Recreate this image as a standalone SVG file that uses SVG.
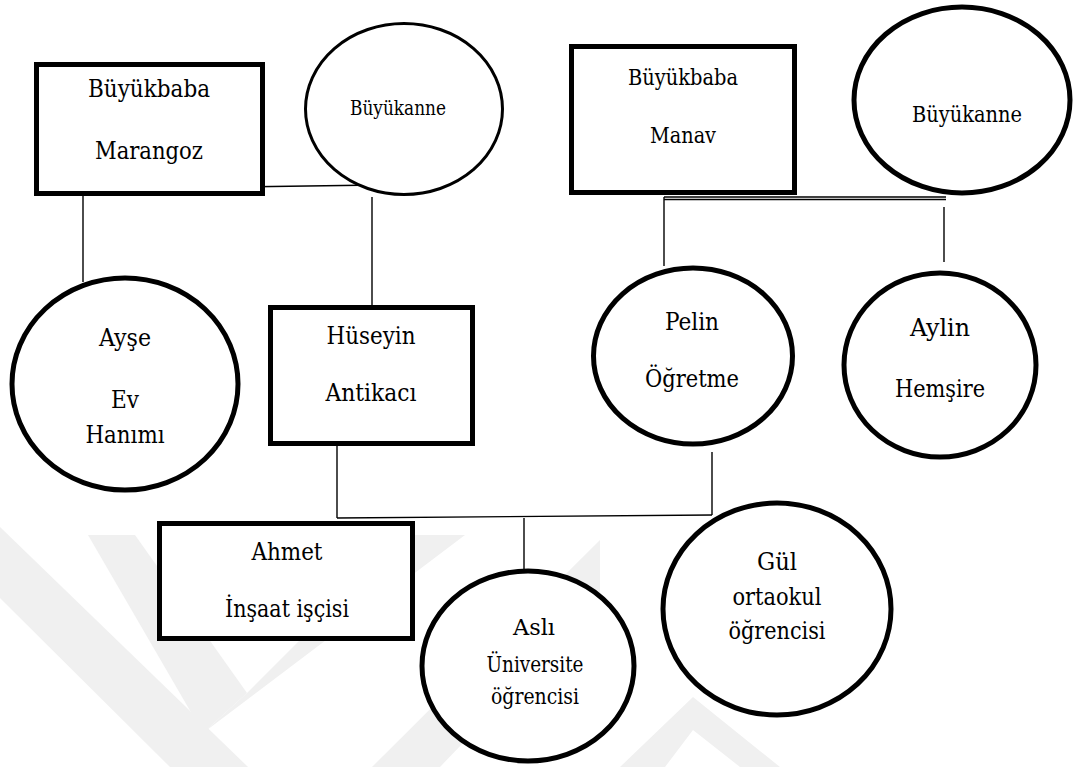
<svg xmlns="http://www.w3.org/2000/svg" width="1078" height="767" viewBox="0 0 1078 767">
<style>
.bg{fill:#ffffff}
.wm{fill:#f0f0f0;stroke:none}
.box{fill:#ffffff;stroke:#000;stroke-width:5}
.ell{fill:#ffffff;stroke:#000;stroke-width:5}
.thin{stroke-width:3}
.conn line{stroke:#000;stroke-width:1.4;fill:none}
.lbl{fill:#000;text-anchor:middle;font-family:'DejaVu Serif Condensed','DejaVu Serif','Liberation Serif',serif;font-stretch:condensed}
.t26{font-size:24px}
.t24{font-size:22px}
.t22{font-size:20px}
</style>
<rect class="bg" x="0" y="0" width="1078" height="767"/>
<g id="watermark">
<polygon class="wm" points="0,527 0,598 170,767 248,767"/>
<polygon class="wm" points="88,535 135,535 247,693 203,733"/>
<polygon class="wm" points="203,733 465,535 405,535 247,693"/>
<polygon class="wm" points="372,767 440,767 600,600 600,540"/>
<polygon class="wm" points="620,767 693,697 780,767 740,767 693,730 665,767"/>
</g>
<g id="connectors" class="conn">
<line x1="83" y1="189" x2="378" y2="185"/>
<line x1="83" y1="193" x2="83" y2="282"/>
<line x1="372" y1="197" x2="372" y2="307"/>
<line x1="664" y1="197" x2="946" y2="197"/>
<line x1="664" y1="199.5" x2="946" y2="199.5"/>
<line x1="664" y1="197" x2="664" y2="266"/>
<line x1="944" y1="207" x2="944" y2="262"/>
<line x1="337" y1="446" x2="337" y2="518"/>
<line x1="337" y1="518" x2="712" y2="515"/>
<line x1="712" y1="452" x2="712" y2="515"/>
<line x1="524" y1="518" x2="524" y2="583"/>
</g>
<g id="grandpa-left">
<rect class="box" x="36.5" y="64.5" width="226" height="129"/>
<text class="lbl t26" x="149" y="97" textLength="122" lengthAdjust="spacingAndGlyphs">Büyükbaba</text>
<text class="lbl t26" x="149" y="159" textLength="108" lengthAdjust="spacingAndGlyphs">Marangoz</text>
</g>
<g id="grandma-left">
<ellipse class="ell thin" cx="404" cy="109" rx="98.5" ry="85.5"/>
<text class="lbl t22" x="398" y="115" textLength="96" lengthAdjust="spacingAndGlyphs">Büyükanne</text>
</g>
<g id="grandpa-right">
<rect class="box" x="571.5" y="46.5" width="223" height="146"/>
<text class="lbl t24" x="683" y="85" textLength="110" lengthAdjust="spacingAndGlyphs">Büyükbaba</text>
<text class="lbl t24" x="683" y="143" textLength="66" lengthAdjust="spacingAndGlyphs">Manav</text>
</g>
<g id="grandma-right">
<ellipse class="ell" cx="962" cy="100" rx="108" ry="93"/>
<text class="lbl t24" x="967" y="122" textLength="110" lengthAdjust="spacingAndGlyphs">Büyükanne</text>
</g>
<g id="ayse">
<ellipse class="ell" cx="125" cy="384" rx="113" ry="106"/>
<text class="lbl t26" x="125" y="346" textLength="52" lengthAdjust="spacingAndGlyphs">Ayşe</text>
<text class="lbl t26" x="125" y="408" textLength="28" lengthAdjust="spacingAndGlyphs">Ev</text>
<text class="lbl t26" x="125" y="443" textLength="79" lengthAdjust="spacingAndGlyphs">Hanımı</text>
</g>
<g id="huseyin">
<rect class="box" x="270.5" y="307.5" width="202" height="136"/>
<text class="lbl t26" x="371" y="344" textLength="89" lengthAdjust="spacingAndGlyphs">Hüseyin</text>
<text class="lbl t26" x="371" y="401" textLength="91" lengthAdjust="spacingAndGlyphs">Antikacı</text>
</g>
<g id="pelin">
<ellipse class="ell" cx="693" cy="356" rx="99.5" ry="88"/>
<text class="lbl t26" x="692" y="330" textLength="54" lengthAdjust="spacingAndGlyphs">Pelin</text>
<text class="lbl t26" x="692" y="387" textLength="94" lengthAdjust="spacingAndGlyphs">Öğretme</text>
</g>
<g id="aylin">
<ellipse class="ell" cx="940" cy="365" rx="96" ry="92"/>
<text class="lbl t26" x="940" y="336" textLength="60" lengthAdjust="spacingAndGlyphs">Aylin</text>
<text class="lbl t26" x="940" y="397" textLength="90" lengthAdjust="spacingAndGlyphs">Hemşire</text>
</g>
<g id="ahmet">
<rect class="box" x="159.5" y="523.5" width="253" height="115"/>
<text class="lbl t26" x="287" y="560" textLength="71" lengthAdjust="spacingAndGlyphs">Ahmet</text>
<text class="lbl t26" x="287" y="617" textLength="124" lengthAdjust="spacingAndGlyphs">İnşaat işçisi</text>
</g>
<g id="asli">
<ellipse class="ell" cx="528" cy="666" rx="106" ry="95"/>
<text class="lbl t24" x="534" y="635" textLength="42" lengthAdjust="spacingAndGlyphs">Aslı</text>
<text class="lbl t24" x="535" y="672" textLength="97" lengthAdjust="spacingAndGlyphs">Üniversite</text>
<text class="lbl t24" x="535" y="704" textLength="88" lengthAdjust="spacingAndGlyphs">öğrencisi</text>
</g>
<g id="gul">
<ellipse class="ell" cx="777" cy="609" rx="114" ry="106"/>
<text class="lbl t26" x="777" y="570" textLength="40" lengthAdjust="spacingAndGlyphs">Gül</text>
<text class="lbl t26" x="777" y="605" textLength="89" lengthAdjust="spacingAndGlyphs">ortaokul</text>
<text class="lbl t26" x="777" y="639" textLength="97" lengthAdjust="spacingAndGlyphs">öğrencisi</text>
</g>
</svg>
